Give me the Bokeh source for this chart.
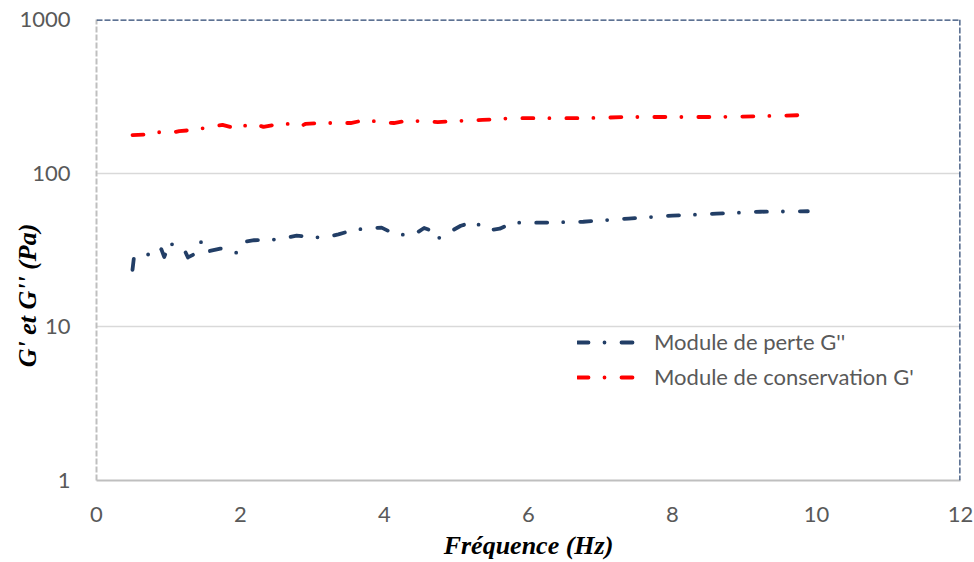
from bokeh.plotting import figure
from bokeh.models import Range1d, FixedTicker, PrintfTickFormatter, Span, Legend, LegendItem
from bokeh.embed import file_html
from bokeh.resources import INLINE

# Module de perte G''
freq_perte = [0.50, 0.52, 0.70, 0.86, 0.90, 0.94, 1.02, 1.14, 1.23, 1.27, 1.40, 1.46, 1.54,
              1.72, 1.94, 2.02, 2.19, 2.50, 2.78, 3.15, 3.36, 3.60, 3.96, 4.15, 4.40, 4.55,
              4.70, 4.74, 5.06, 5.25, 5.42, 5.60, 5.78, 6.15, 6.76, 7.39, 8.00, 8.61, 9.22, 9.88]
g_perte = [23.5, 28.3, 29.6, 29.2, 32.0, 28.5, 35.5, 31.3, 31.0, 28.3, 30.4, 36.5, 30.9,
           32.3, 30.4, 35.5, 36.6, 37.0, 39.2, 38.0, 40.0, 43.0, 44.2, 40.0, 39.5, 44.0,
           41.5, 37.5, 45.5, 48.3, 42.3, 43.5, 47.6, 47.6, 48.3, 50.6, 52.9, 54.5, 56.1, 56.5]

# Module de conservation G'
freq_cons = [0.50, 0.67, 0.81, 0.99, 1.03, 1.15, 1.36, 1.57, 1.75, 1.96, 2.15, 2.32, 2.53,
             2.74, 2.82, 2.90, 3.11, 3.53, 3.74, 3.94, 4.13, 4.33, 4.74, 4.94, 5.36, 5.78,
             6.18, 6.79, 7.40, 8.01, 8.64, 9.25, 9.86]
g_cons = [177, 178, 185, 184, 182, 188, 191, 200, 206, 194, 212, 200, 209,
          209, 200, 209, 212, 212, 222, 215, 212, 220, 215, 218, 222, 228,
          228, 228, 232, 232, 232, 235, 239]

x_ticks = [0, 2, 4, 6, 8, 10, 12]
y_ticks = [1, 10, 100, 1000]

BLUE = "#223E66"
RED = "#FF0000"
GRAY_TXT = "#595959"

p = figure(width=974, height=562, y_axis_type="log", output_backend="svg",
           toolbar_location=None, x_range=Range1d(0, 12), y_range=Range1d(1, 1000),
           min_border_left=96, min_border_right=14, min_border_top=19, min_border_bottom=80)
p.outline_line_color = None
p.background_fill_color = "white"
p.border_fill_color = "white"

p.xgrid.grid_line_color = None
p.ygrid.grid_line_color = "#D9D9D9"
p.ygrid.grid_line_width = 1.5
p.ygrid.ticker = FixedTicker(ticks=y_ticks)

# top and right border of the plot area
p.add_layout(Span(location=1000, dimension="width", line_color="#284470",
                  line_width=2.5, line_dash="6 2"))
p.add_layout(Span(location=12, dimension="height", line_color="#284470",
                  line_width=2.5, line_dash="6 2"))

dash = "11 16 0 17"
r1 = p.line(freq_perte, g_perte, line_color=BLUE, line_width=3.8, line_dash=dash,
            line_cap="round", line_join="round")
r2 = p.line(freq_cons, g_cons, line_color=RED, line_width=3.8, line_dash=dash,
            line_cap="round", line_join="round")

for ax in (p.xaxis[0], p.yaxis[0]):
    ax.major_tick_out = 0
    ax.major_tick_in = 0
    ax.minor_tick_out = 0
    ax.minor_tick_in = 0
    ax.major_label_text_font = "Lato"
    ax.major_label_text_font_size = "22px"
    ax.major_label_text_color = GRAY_TXT
    ax.axis_label_text_font = "Liberation Serif"
    ax.axis_label_text_font_style = "bold italic"
    ax.axis_label_text_font_size = "26px"
    ax.axis_label_text_color = "black"
    ax.axis_line_color = "#BFBFBF"
    ax.axis_line_width = 2

p.xaxis.ticker = FixedTicker(ticks=x_ticks)
p.yaxis.ticker = FixedTicker(ticks=y_ticks)
p.yaxis.formatter = PrintfTickFormatter(format="%d")
p.yaxis.axis_line_dash = "6 2"
p.xaxis.axis_label = "Fréquence (Hz)"
# trailing no-break spaces push the title down, off-centre as in the original
p.yaxis.axis_label = "G' et G'' (Pa)" + "\u00a0" * 14
p.xaxis.major_label_standoff = 26
p.yaxis.major_label_standoff = 26
p.xaxis.axis_label_standoff = 6
p.yaxis.axis_label_standoff = -26

legend = Legend(items=[LegendItem(label="Module de perte G''", renderers=[r1]),
                       LegendItem(label="Module de conservation G'", renderers=[r2])],
                location=(481, 90), orientation="vertical")
legend.glyph_width = 62
legend.glyph_height = 20
legend.label_standoff = 15
legend.label_height = 20
legend.spacing = 8
legend.padding = 0
legend.margin = 0
legend.border_line_color = None
legend.background_fill_alpha = 0
legend.label_text_font = "Lato"
legend.label_text_font_size = "22px"
legend.label_text_color = GRAY_TXT
p.add_layout(legend, "center")

open("out.html", "w").write(file_html(p, INLINE))
